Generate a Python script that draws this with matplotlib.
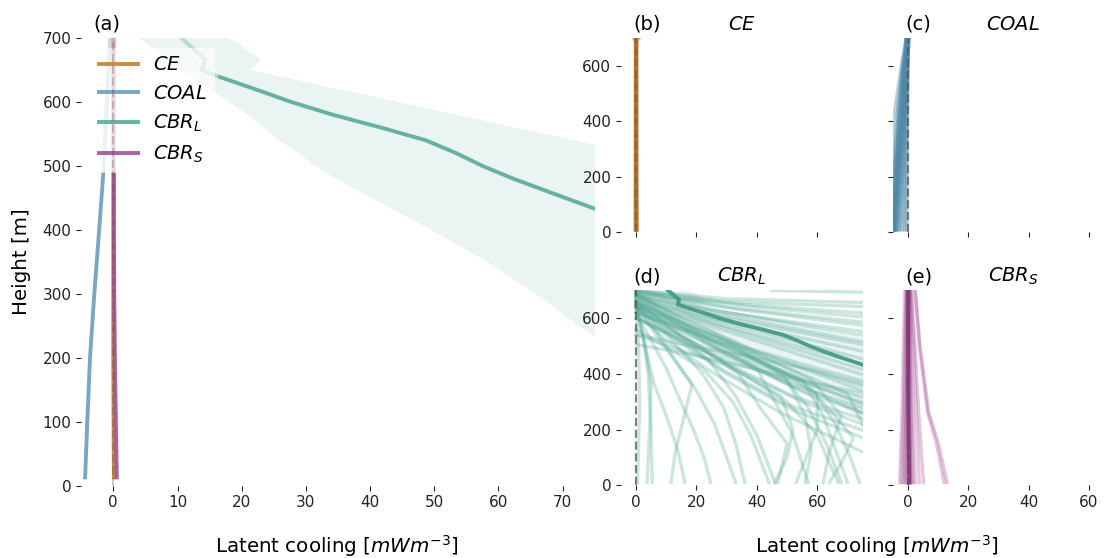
import numpy as np
import matplotlib
matplotlib.use("Agg")
import matplotlib.pyplot as plt
from matplotlib.lines import Line2D

plt.rcParams["font.family"] = ["DejaVu Sans"]
plt.rcParams["mathtext.fontset"] = "dejavusans"

# ---------------------------------------------------------------- data
SCHEMES = ["CE", "COAL", "CBR_L", "CBR_S"]
LABELS = [r"$CE$", r"$COAL$", r"$CBR_L$", r"$CBR_S$"]
COLORS = {"CE": "#c0802f", "COAL": "#6b9db9", "CBR_L": "#58aa97", "CBR_S": "#a3509a"}

# mean profiles (height in m, latent cooling in mW m^-3)
H_MEAN = [10, 100, 200, 300, 400, 491, 600, 700]
CE_MEAN = [0.1, 0.05, 0.0, 0.0, 0.0, 0.0, 0.0, 0.0]
COAL_MEAN = [-4.4, -4.05, -3.63, -2.96, -2.2, -1.54, -1.0, -0.5]
CBRS_MEAN = [0.55, 0.4, 0.25, 0.15, 0.1, 0.1, 0.1, 0.15]
MEAN_SOLID_TOP = 491

H_CBRL = [10, 50, 100, 150, 200, 250, 300, 350, 400, 450, 480, 500, 520, 540,
          560, 580, 600, 620, 640, 650, 660, 666, 670, 680, 690, 700]
CBRL_MEAN = [175, 170, 163, 152, 140, 126, 112, 98, 84, 70.4, 62.3, 57.5, 53.4, 48.7,
             41.7, 34.2, 27.7, 22.1, 16.3, 13.8, 14.1, 14.3, 13.9, 12.8, 11.7, 10.6]
CBRL_LO = [104, 100, 95, 88, 80, 72.5, 65.8, 58.2, 49.5, 40.3, 34.7, 31.4, 28.8, 25.9,
           23.4, 20.9, 18.0, 15.1, 12.3, 10.9, 9.5, 8.7, 8.1, 6.7, 5.3, 3.9]
CBRL_HI = [260, 240, 215, 195, 175, 160, 147, 135, 124, 112, 99, 90, 81, 71.8,
           62.6, 53.4, 44.3, 35.1, 25.9, 21.3, 22.4, 22.9, 22.6, 20.9, 19.8, 17.9]
CBRL_SOLID_TOP = 640

# individual runs
H_CE_RUN = [10, 690, 700]
CE_RUNS = [[0.3, 0.2, 0.8], [0.0, 0.0, -0.6], [-0.3, -0.2, 0.5], [0.1, 0.1, -0.3],
           [0.2, 0.0, 1.0], [-0.2, -0.1, -0.9], [0.0, 0.1, 0.2], [-0.1, 0.0, -0.1]]

H_COAL_RUN = [10, 200, 400, 600, 700]
COAL_RUNS = [[-5.4, -5.0, -4.8, -2.0, -0.5], [-5.2, -4.5, -3.6, -1.8, -0.3],
             [-5.0, -4.3, -3.3, -1.5, -0.2], [-4.9, -4.1, -3.0, -1.3, 0.0],
             [-4.8, -4.0, -2.8, -1.2, -0.4], [-4.7, -3.8, -2.5, -1.0, 0.2],
             [-4.6, -3.6, -2.3, -0.9, -0.1], [-4.5, -3.5, -2.2, -0.8, 0.3],
             [-4.4, -3.4, -2.0, -0.7, -0.6], [-4.2, -3.1, -1.8, -0.6, 0.1],
             [-4.0, -2.9, -1.6, -0.5, 0.4], [-3.8, -2.7, -1.5, -0.4, -0.2],
             [-3.5, -2.4, -1.3, -0.3, 0.0], [-3.0, -2.0, -1.1, -0.3, 0.2],
             [-2.5, -1.7, -0.9, -0.2, -0.1], [-1.8, -1.2, -0.6, -0.1, 0.3],
             [-1.0, -0.7, -0.4, -0.1, 0.0], [-0.4, -0.3, -0.2, 0.0, 0.1]]

# CBR_L runs as (height, value) nodes, top to bottom
CBRL_RUNS = [
    # shallow profiles leaving the panel high up
    [(700, 45), (690, 90)],
    [(700, 0), (670, 30), (655, 80)],
    [(700, 0), (660, 30), (640, 80)],
    [(695, 0), (650, 35), (615, 80)],
    [(690, 0), (640, 40), (600, 80)],
    [(700, 0), (640, 30), (580, 80)],
    [(690, 0), (630, 35), (570, 78)],
    [(680, 0), (620, 30), (545, 80)],
    [(700, 0), (630, 25), (530, 80)],
    [(690, 0), (620, 25), (505, 80)],
    [(680, 0), (600, 30), (495, 80)],
    [(670, 0), (600, 25), (470, 80)],
    [(690, 0), (610, 20), (440, 80)],
    [(680, 0), (600, 20), (420, 80)],
    [(670, 0), (580, 25), (400, 80)],
    [(660, 0), (570, 25), (380, 80)],
    # profiles leaving the panel at mid levels
    [(690, 0), (600, 15), (500, 35), (420, 60), (360, 80)],
    [(680, 0), (590, 18), (480, 40), (400, 62), (340, 80)],
    [(650, 0), (560, 20), (470, 42), (380, 65), (320, 80)],
    [(670, 0), (580, 15), (480, 33), (380, 55), (300, 80)],
    [(660, 0), (570, 15), (460, 35), (360, 58), (280, 80)],
    [(680, 0), (590, 12), (470, 30), (360, 52), (260, 80)],
    [(650, 0), (560, 14), (450, 34), (340, 55), (240, 80)],
    [(660, 0), (560, 12), (440, 30), (320, 52), (220, 80)],
    [(640, 0), (540, 14), (420, 32), (300, 55), (200, 80)],
    [(650, 0), (540, 12), (420, 28), (290, 50), (180, 80)],
    [(640, 0), (530, 12), (400, 30), (270, 52), (150, 80)],
    [(620, 0), (520, 10), (400, 26), (260, 48), (120, 75), (60, 90)],
    [(506, 0), (470, 18), (424, 37), (370, 58), (320, 80)],
    [(542, 0), (500, 18), (464, 37), (410, 60), (350, 80)],
    [(600, 0), (520, 15), (440, 32), (380, 50), (300, 66), (240, 80)],
    [(690, 0), (620, 10), (520, 25), (420, 45), (320, 68), (270, 80)],
    # profiles reaching the surface inside the panel
    [(690, 0), (500, 0.8), (300, 1.2), (10, 0.5)],
    [(650, 0), (500, 3), (362, 5), (200, 4.5), (10, 3.6)],
    [(660, 0), (520, 2.5), (400, 4), (200, 5), (10, 5.3)],
    [(640, 0), (520, 8), (430, 14), (362, 18.5), (250, 16), (120, 13), (10, 11.6)],
    [(650, 0), (500, 3), (362, 6), (250, 10), (120, 14), (10, 16.1)],
    [(620, 0), (520, 5), (420, 10), (320, 14), (200, 19), (100, 22.5), (10, 24.7)],
    [(650, 0), (550, 7), (450, 13), (340, 20), (220, 26), (100, 30), (10, 33)],
    [(640, 0), (520, 12), (400, 22), (280, 29), (150, 33), (10, 36)],
    [(660, 0), (560, 12), (450, 24), (320, 33), (180, 40), (10, 46)],
    [(630, 0), (520, 18), (400, 34), (280, 41), (150, 50), (10, 47)],
    [(650, 0), (540, 20), (420, 40), (300, 46), (180, 52), (10, 57)],
    [(640, 0), (500, 25), (380, 50), (250, 56), (120, 58), (10, 56)],
    [(660, 0), (530, 27), (400, 48), (280, 57), (150, 63), (10, 68)],
    [(620, 0), (500, 30), (380, 55), (250, 62), (130, 66), (10, 70)],
    [(650, 0), (500, 33), (350, 58), (220, 66), (100, 71), (10, 74)],
    [(600, 0), (450, 28), (300, 50), (180, 60), (80, 64), (10, 67)],
    [(640, 0), (480, 35), (330, 60), (200, 60), (90, 56), (10, 53)],
    [(660, 0), (520, 30), (380, 58), (250, 68), (120, 64), (10, 62)],
    [(620, 0), (470, 40), (330, 70), (200, 76), (10, 78)],
    [(560, 0), (420, 22), (300, 32), (180, 38), (10, 44)],
    [(600, 0), (440, 35), (300, 62), (170, 72), (80, 68), (10, 64)],
    [(540, 0), (430, 30), (320, 48), (200, 52), (100, 50), (10, 46)],
]

H_CBRS_RUN = [10, 150, 264, 500, 700]
CBRS_RUNS = [[13, 10.2, 6.9, 4.1, 2.3], [12, 9.5, 6.5, 3.8, 2.6],
             [5.2, 4.3, 3.6, 2.4, 1.3], [3.8, 3.3, 2.8, 2.0, 1.0],
             [2.5, 2.1, 1.8, 1.3, 0.8], [1.8, 1.5, 1.2, 0.9, 0.6],
             [1.2, 1.0, 0.9, 0.7, 0.5], [0.8, 0.7, 0.5, 0.4, 0.3],
             [0.5, 0.4, 0.3, 0.2, 0.2], [0.3, 0.2, 0.2, 0.1, 0.0],
             [0.0, 0.0, 0.0, 0.0, 0.0], [-0.3, -0.2, -0.2, -0.1, 0.0],
             [-0.6, -0.5, -0.4, -0.2, -0.1], [-1.0, -0.8, -0.6, -0.4, -0.2],
             [-1.5, -1.2, -1.0, -0.7, -0.4], [-2.0, -1.7, -1.4, -1.0, -0.6],
             [-2.7, -2.3, -1.9, -1.5, -1.0], [1.0, 0.8, 0.6, 0.4, 0.2]]

XLIM = (-5, 75)
YLIM = (0, 700)
XLABEL = r"Latent cooling [$mWm^{-3}$]"
YLABEL = "Height [m]"

# ---------------------------------------------------------------- figure
W, H = 1105, 558
fig = plt.figure(figsize=(W / 100, H / 100), dpi=100)


def px_axes(x0, y0, x1, y1):
    return fig.add_axes([x0 / W, 1 - y1 / H, (x1 - x0) / W, (y1 - y0) / H])


ax_a = px_axes(81.2, 38.0, 594.8, 485.7)
ax_b = px_axes(621.0, 38.0, 862.5, 232.3)
ax_c = px_axes(892.7, 38.0, 1134.2, 232.3)
ax_d = px_axes(621.0, 290.4, 862.5, 485.3)
ax_e = px_axes(892.7, 290.4, 1134.2, 485.3)

LW = 2.8
TITLE_FS = 14


def style(ax, xt, yt, show_x=True, show_y=True):
    for s in ax.spines.values():
        s.set_visible(False)
    ax.set_xlim(*XLIM)
    ax.set_ylim(*YLIM)
    ax.set_xticks(xt)
    ax.set_yticks(yt)
    ax.tick_params(labelsize=11, colors="#222222")
    if not show_x:
        ax.set_xticklabels([])
    if not show_y:
        ax.set_yticklabels([])


def zero_line(ax, alpha=0.75):
    ax.plot([0, 0], YLIM, ls="--", color="#555555", lw=1.6, alpha=alpha, zorder=6)


def panel_letter(ax, letter):
    ax.annotate(letter, xy=(0, 1), xycoords="axes fraction", xytext=(9.0, 6),
                textcoords="offset points", ha="left", va="baseline", fontsize=TITLE_FS)


def split_plot(ax, h, x, top, color):
    h = np.asarray(h, float)
    x = np.asarray(x, float)
    lo = h <= top
    hi = h >= top
    ax.plot(x[hi], h[hi], color=color, lw=LW, alpha=0.35, solid_capstyle="butt")
    ax.plot(x[lo], h[lo], color=color, lw=LW, alpha=0.9, solid_capstyle="butt")


# (a) mean profiles
ax = ax_a
ax.fill_betweenx(H_CBRL, CBRL_LO, CBRL_HI, color=COLORS["CBR_L"], alpha=0.12, lw=0)
zero_line(ax, alpha=0.3)
split_plot(ax, H_MEAN, COAL_MEAN, MEAN_SOLID_TOP, COLORS["COAL"])
split_plot(ax, H_MEAN, CE_MEAN, MEAN_SOLID_TOP, COLORS["CE"])
split_plot(ax, H_MEAN, CBRS_MEAN, MEAN_SOLID_TOP, COLORS["CBR_S"])
split_plot(ax, H_CBRL, CBRL_MEAN, CBRL_SOLID_TOP, COLORS["CBR_L"])
style(ax, np.arange(0, 71, 10), np.arange(0, 701, 100))
handles = [Line2D([], [], color=COLORS[s], lw=LW, alpha=0.9) for s in SCHEMES]
leg = ax.legend(handles, LABELS, loc="upper left", fontsize=14, frameon=True,
                framealpha=0.6, edgecolor="none", facecolor="white")
panel_letter(ax, "(a)")

# (b) CE runs
ax = ax_b
for run in CE_RUNS:
    ax.plot(run, H_CE_RUN, color="#c07a25", lw=LW, alpha=0.3)
ax.plot(CE_MEAN, H_MEAN, color="#b87020", lw=LW, alpha=0.9)
zero_line(ax, alpha=0.4)
style(ax, [0, 20, 40, 60], [0, 200, 400, 600], show_x=False)
ax.set_title(r"$CE$", fontsize=TITLE_FS, pad=6)
panel_letter(ax, "(b)")

# (c) COAL runs
ax = ax_c
for run in COAL_RUNS:
    ax.plot(run, H_COAL_RUN, color="#4f87a8", lw=LW, alpha=0.4)
zero_line(ax)
style(ax, [0, 20, 40, 60], [0, 200, 400, 600], show_x=False, show_y=False)
ax.set_title(r"$COAL$", fontsize=TITLE_FS, pad=6)
panel_letter(ax, "(c)")

# (d) CBR_L runs
ax = ax_d
ax.fill_betweenx(H_CBRL, CBRL_LO, CBRL_HI, color=COLORS["CBR_L"], alpha=0.12, lw=0)
for run in CBRL_RUNS:
    hh, xx = zip(*run)
    ax.plot(xx, hh, color=COLORS["CBR_L"], lw=2.4, alpha=0.3)
ax.plot(CBRL_MEAN, H_CBRL, color="#3f9884", lw=LW, alpha=0.9)
zero_line(ax)
style(ax, [0, 20, 40, 60], [0, 200, 400, 600])
ax.set_title(r"$CBR_L$", fontsize=TITLE_FS, pad=6)
panel_letter(ax, "(d)")

# (e) CBR_S runs
ax = ax_e
for run in CBRS_RUNS:
    ax.plot(run, H_CBRS_RUN, color="#a0468f", lw=2.4, alpha=0.3)
ax.plot(CBRS_MEAN, H_MEAN, color="#8e2f80", lw=LW, alpha=0.8)
zero_line(ax)
style(ax, [0, 20, 40, 60], [0, 200, 400, 600], show_y=False)
ax.set_title(r"$CBR_S$", fontsize=TITLE_FS, pad=6)
panel_letter(ax, "(e)")

# shared axis labels
fig.text(22 / W, 1 - 262 / H, YLABEL, rotation=90, ha="center", va="center", fontsize=14.3)
fig.text(337 / W, 1 - 546 / H, XLABEL, ha="center", va="center", fontsize=14.3)
fig.text(877 / W, 1 - 546 / H, XLABEL, ha="center", va="center", fontsize=14.3)

fig.savefig("out.png", dpi=100)
